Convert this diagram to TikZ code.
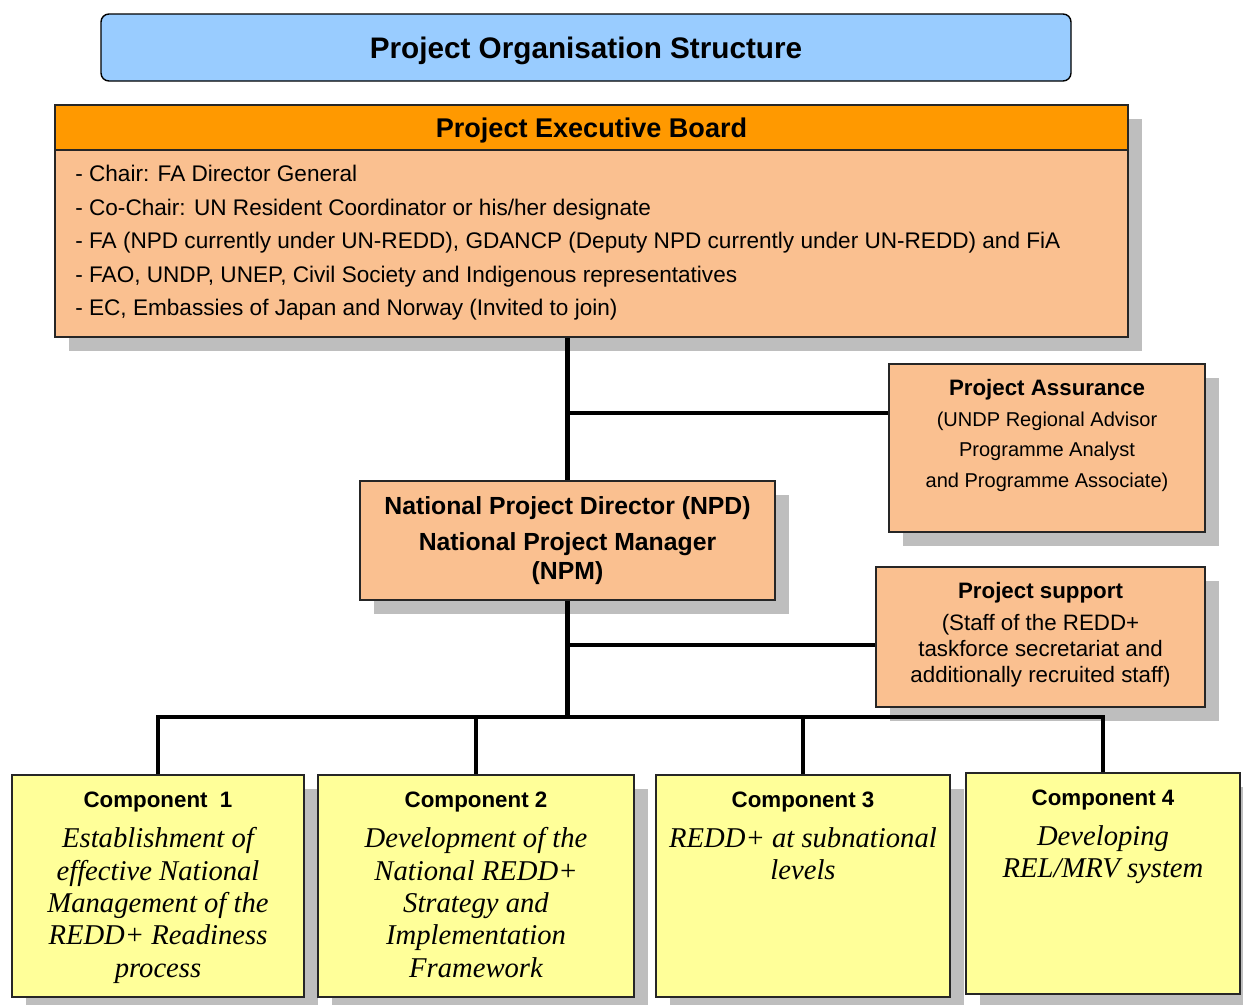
\documentclass[tikz,border=0pt]{standalone}
\usepackage{fontspec}
\setmainfont{Liberation Sans}
\newfontfamily\compfont{Liberation Serif}
\usetikzlibrary{positioning,shadows}
\definecolor{titleblue}{RGB}{153,204,255}
\definecolor{boardorange}{RGB}{255,153,0}
\definecolor{peach}{RGB}{250,192,144}
\definecolor{compyellow}{RGB}{255,255,153}
\definecolor{shadowgray}{RGB}{190,190,190}
\tikzset{
  shadowbox/.style={draw=black!85, line width=0.9pt,
    drop shadow={shadow xshift=0.28cm, shadow yshift=-0.28cm, fill=shadowgray, opacity=1}},
  orgbox/.style={shadowbox, fill=peach, inner sep=0pt},
  compbox/.style={shadowbox, fill=compyellow, inner sep=0pt},
  boardtext/.style={font=\fontsize{12.85}{15}\selectfont, inner sep=0pt},
  comptitle/.style={font=\fontsize{12.7}{15}\selectfont\bfseries, inner sep=0pt},
  compbody/.style={font=\compfont\fontsize{16.3}{18.4}\selectfont\itshape, align=center, inner sep=0pt},
  link/.style={line width=2.6pt, line join=miter},
}

\begin{document}
\begin{tikzpicture}
\useasboundingbox (0,0) rectangle (24.86,-20.08);

% Banner
\node[draw, fill=titleblue, rounded corners=0.16cm, line width=0.8pt,
  minimum width=19.4cm, minimum height=1.34cm, text depth=0pt,
  font=\fontsize{16.9}{18}\selectfont\bfseries] (title) at (11.72,-0.95) {Project Organisation Structure};

% Executive board: peach body with member list, orange head on top
\node[orgbox, minimum width=21.46cm, minimum height=4.64cm] (board) at (11.83,-4.42) {};
\node[draw=black!85, line width=0.9pt, fill=boardorange, minimum width=21.46cm, minimum height=0.9cm,
  text depth=0pt, anchor=north, font=\fontsize{15.4}{18}\selectfont\bfseries] (boardhead)
  at (board.north) {Project Executive Board};
\foreach \txt [count=\i] in {{- Chair: FA Director General},
    {- Co-Chair: UN Resident Coordinator or his/her designate},
    {- FA (NPD currently under UN-REDD), GDANCP (Deputy NPD currently under UN-REDD) and FiA},
    {- FAO, UNDP, UNEP, Civil Society and Indigenous representatives},
    {- EC, Embassies of Japan and Norway (Invited to join)}}
  \node[boardtext, anchor=base west] (member\i) at (1.5,{-3.632-0.67*(\i-1)}) {\txt};

% Assurance and support on the right
\node[orgbox, minimum width=6.32cm, minimum height=3.36cm] (assurance) at (20.94,-8.96) {};
\node[inner sep=0pt, align=center, font=\fontsize{11.4}{17.4}\selectfont,
  below=0.32cm of assurance.north] (assurancetext)
  {{\fontsize{12.7}{15}\selectfont\bfseries Project Assurance}\\
   (UNDP Regional Advisor\\ Programme Analyst\\ and Programme Associate)};

\node[orgbox, minimum width=6.58cm, minimum height=2.8cm] (support) at (20.81,-12.74) {};
\node[inner sep=0pt, align=center, font=\fontsize{12.7}{14.7}\selectfont,
  below=0.32cm of support.north] (supporttext)
  {\textbf{Project support}\\[3.4pt]
   (Staff of the REDD+\\ taskforce secretariat and\\ additionally recruited staff)};

% NPD / NPM
\node[orgbox, minimum width=8.3cm, minimum height=2.38cm, align=center,
  font=\fontsize{14.1}{16.4}\selectfont\bfseries] (npd) at (11.35,-10.81)
  {National Project Director (NPD)\\[4pt] National Project Manager\\ (NPM)};

% Components
\node[compbox, minimum width=5.84cm, minimum height=4.44cm] (comp1) at (3.16,-17.72) {};
\node[comptitle, below=0.34cm of comp1.north] (comp1title) {Component\ \ 1};
\node[compbody, below=0.3cm of comp1title] (comp1body)
  {Establishment of\\ effective National\\ Management of the\\ REDD+ Readiness\\ process};

\node[compbox, minimum width=6.32cm, minimum height=4.44cm] (comp2) at (9.52,-17.72) {};
\node[comptitle, below=0.34cm of comp2.north] (comp2title) {Component 2};
\node[compbody, below=0.3cm of comp2title] (comp2body)
  {Development of the\\ National REDD+\\ Strategy and\\ Implementation\\ Framework};

\node[compbox, minimum width=5.88cm, minimum height=4.44cm] (comp3) at (16.06,-17.72) {};
\node[comptitle, below=0.34cm of comp3.north] (comp3title) {Component 3};
\node[compbody, below=0.3cm of comp3title] (comp3body)
  {REDD+ at subnational\\ levels};

\node[compbox, minimum width=5.48cm, minimum height=4.42cm] (comp4) at (22.06,-17.67) {};
\node[comptitle, below=0.34cm of comp4.north] (comp4title) {Component 4};
\node[compbody, below=0.3cm of comp4title] (comp4body)
  {Developing\\ REL/MRV system};

% Reporting lines
\coordinate (asrjoin) at ([yshift=0.7cm]assurance.west);
\coordinate (supjoin) at ([yshift=-0.16cm]support.west);
\coordinate (bus) at (11.35,-14.34);
\draw[link] (board.south -| npd.north) -- (npd.north);
\draw[link] (asrjoin) -- (asrjoin -| npd.north);
\draw[link] (npd.south) -- (bus);
\draw[link] (supjoin) -- (supjoin -| npd.south);
\draw[link] (comp1.north) |- (bus) -| (comp4.north);
\foreach \c in {comp2,comp3}
  \draw[link] (\c.north) -- (\c.north |- bus);
\end{tikzpicture}
\end{document}
